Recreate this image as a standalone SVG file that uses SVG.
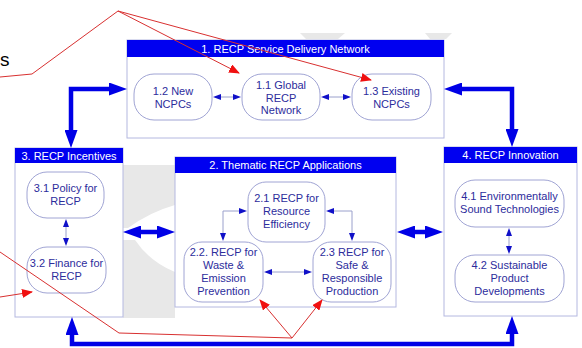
<svg xmlns="http://www.w3.org/2000/svg" width="582" height="348" viewBox="0 0 582 348">
<defs>
<style>
.box{fill:#ffffff;stroke:#b4b8e0;stroke-width:1}
.hdr{fill:#0000f0}
.ht{font-family:"Liberation Sans",Arial,sans-serif;font-size:11px;fill:#ffffff;text-anchor:middle}
.node{fill:#ffffff;stroke:#a0a4d4;stroke-width:1}
.nt{font-family:"Liberation Sans",Arial,sans-serif;font-size:11px;fill:#2c2c9c;text-anchor:middle}
.thin{fill:none;stroke:#9aa0cc;stroke-width:1;marker-start:url(#sa);marker-end:url(#sa)}
.thick{fill:none;stroke:#0000e6;stroke-width:4.5}
.red{fill:none;stroke:#d83030;stroke-width:1}
.wm{fill:#e8e8e8}
</style>
<marker id="sa" viewBox="0 0 8 6" refX="6" refY="3" markerWidth="8" markerHeight="6" markerUnits="userSpaceOnUse" orient="auto-start-reverse"><path d="M0,0 L8,3 L0,6 z" fill="#1010c8"/></marker>
<marker id="ta" viewBox="0 0 18 13" refX="10" refY="6.5" markerWidth="18" markerHeight="13" markerUnits="userSpaceOnUse" orient="auto-start-reverse"><path d="M0,0 L18,6.5 L0,13 z" fill="#0000e6"/></marker>
<marker id="ra" viewBox="0 0 11 9" refX="10" refY="4.5" markerWidth="11" markerHeight="9" markerUnits="userSpaceOnUse" orient="auto"><path d="M0,0 L11,4.5 L0,9 z" fill="#f01010"/></marker>
</defs>
<rect width="582" height="348" fill="#ffffff"/>
<g id="watermark">
<path class="wm" d="M123,165 L175,165 L175,205 Q150,212 128,228 L123,228 z"/>
<path class="wm" d="M123,240 L135,240 Q150,262 175,272 L175,318 L123,318 z"/>
<path class="wm" d="M300,33 L345,33 L338,39 L306,39 z"/>
<path class="wm" d="M425,33 L452,33 L446,39 L430,39 z"/>
</g>
<text x="0" y="66" font-family="Liberation Sans,Arial,sans-serif" font-size="19" fill="#000000">s</text>
<g id="box1">
<rect class="box" x="127" y="40" width="317" height="98"/>
<rect class="hdr" x="127" y="40" width="317" height="17"/>
<text class="ht" x="285.5" y="52.5">1. RECP Service Delivery Network</text>
</g>
<g id="n12"><rect class="node" x="134" y="74" width="78" height="46" rx="20"/><text class="nt" x="173" y="95">1.2 New</text><text class="nt" x="173" y="108">NCPCs</text></g>
<g id="n11"><rect class="node" x="242" y="74" width="78" height="46" rx="20"/><text class="nt" x="281" y="89">1.1 Global</text><text class="nt" x="281" y="101.5">RECP</text><text class="nt" x="281" y="114">Network</text></g>
<g id="n13"><rect class="node" x="352" y="74" width="79" height="46" rx="20"/><text class="nt" x="391.5" y="95">1.3 Existing</text><text class="nt" x="391.5" y="108">NCPCs</text></g>
<g id="box3">
<rect class="box" x="15" y="148" width="108" height="169"/>
<rect class="hdr" x="15" y="148" width="108" height="15"/>
<text class="ht" x="69" y="159.5">3. RECP Incentives</text>
</g>
<g id="n31"><rect class="node" x="27" y="172" width="77" height="46" rx="20"/><text class="nt" x="65.5" y="192">3.1 Policy for</text><text class="nt" x="65.5" y="205">RECP</text></g>
<g id="n32"><rect class="node" x="27" y="247" width="79" height="46" rx="20"/><text class="nt" x="66.5" y="267">3.2 Finance for</text><text class="nt" x="66.5" y="280">RECP</text></g>
<g id="box2">
<rect class="box" x="175" y="157" width="221" height="150"/>
<rect class="hdr" x="175" y="157" width="221" height="16"/>
<text class="ht" x="285.5" y="169">2. Thematic RECP Applications</text>
</g>
<g id="n21"><rect class="node" x="248" y="182" width="77" height="60" rx="18"/><text class="nt" x="286.5" y="202">2.1 RECP for</text><text class="nt" x="286.5" y="215">Resource</text><text class="nt" x="286.5" y="228">Efficiency</text></g>
<g id="n22"><rect class="node" x="184" y="242" width="79" height="60" rx="18"/><text class="nt" x="223.5" y="256">2.2. RECP for</text><text class="nt" x="223.5" y="269">Waste &amp;</text><text class="nt" x="223.5" y="282">Emission</text><text class="nt" x="223.5" y="295">Prevention</text></g>
<g id="n23"><rect class="node" x="313" y="242" width="78" height="60" rx="18"/><text class="nt" x="352" y="256">2.3 RECP for</text><text class="nt" x="352" y="269">Safe &amp;</text><text class="nt" x="352" y="282">Responsible</text><text class="nt" x="352" y="295">Production</text></g>
<g id="box4">
<rect class="box" x="444" y="147" width="133" height="169"/>
<rect class="hdr" x="444" y="147" width="133" height="16"/>
<text class="ht" x="510.5" y="159">4. RECP Innovation</text>
</g>
<g id="n41"><rect class="node" x="455" y="180" width="109" height="47" rx="20"/><text class="nt" x="509.5" y="200">4.1 Environmentally</text><text class="nt" x="509.5" y="213">Sound Technologies</text></g>
<g id="n42"><rect class="node" x="455" y="255" width="109" height="47" rx="20"/><text class="nt" x="509.5" y="269">4.2 Sustainable</text><text class="nt" x="509.5" y="282">Product</text><text class="nt" x="509.5" y="295">Developments</text></g>
<g id="connectors">
<path class="thin" d="M215,97 L239,97"/>
<path class="thin" d="M323,97 L349,97"/>
<path class="thin" d="M66,221 L66,244"/>
<path class="thin" d="M509,230 L509,252"/>
<path class="thin" d="M245,211 L223,211 L223,239"/>
<path class="thin" d="M328,211 L352,211 L352,239"/>
<path class="thin" d="M266,272 L310,272"/>
<path class="thick" d="M71,140 L71,89 L119,89" marker-start="url(#ta)" marker-end="url(#ta)"/>
<path class="thick" d="M452,89 L512,89 L512,139" marker-start="url(#ta)" marker-end="url(#ta)"/>
<path class="thick" d="M131,232 L167,232" marker-start="url(#ta)" marker-end="url(#ta)"/>
<path class="thick" d="M405,232 L435,232" marker-start="url(#ta)" marker-end="url(#ta)"/>
<path class="thick" d="M72,325 L72,344 L512,344 L512,324" marker-start="url(#ta)" marker-end="url(#ta)"/>
<path class="red" d="M0,77 L32,74 L118,11 L239,73" marker-end="url(#ra)"/>
<path class="red" d="M118,11 L371,80" marker-end="url(#ra)"/>
<path class="red" d="M0,297 L32,292" marker-end="url(#ra)"/>
<path class="red" d="M0,252 L119,333 L292,338"/>
<path class="red" d="M292,338 L260,300" marker-end="url(#ra)"/>
<path class="red" d="M292,338 L322,300" marker-end="url(#ra)"/>
</g>
</svg>
